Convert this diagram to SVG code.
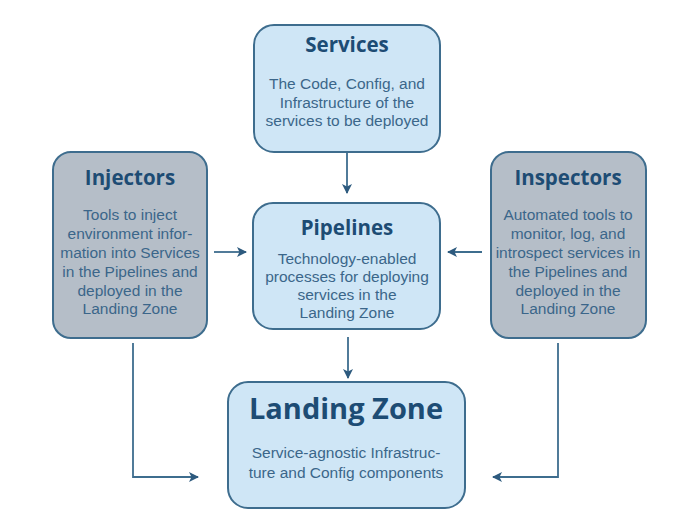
<svg xmlns="http://www.w3.org/2000/svg" width="685" height="519" viewBox="0 0 685 519">
<defs>
<marker id="ah" viewBox="0 0 10 10" refX="9" refY="5" markerWidth="10" markerHeight="10" markerUnits="userSpaceOnUse" orient="auto">
<path d="M0,0 L10,5 L0,10 L2.5,5 Z" fill="#2d5a7e"/>
</marker>
<style>
.blue{fill:#cfe6f6;stroke:#3e6d8e;stroke-width:2}
.gray{fill:#b5bec8;stroke:#3e6d8e;stroke-width:2}
.t{font-family:"Open Sans","Noto Sans",sans-serif;font-weight:bold;fill:#1d4c74;text-anchor:middle;font-size:20.5px}
.b{font-family:"Liberation Sans",Arial,sans-serif;fill:#3b668a;text-anchor:middle;font-size:15.5px}
.c{fill:none;stroke:#3e6d8e;stroke-width:1.8;marker-end:url(#ah)}
</style>
</defs>
<rect width="685" height="519" fill="#ffffff"/>
<g id="connectors">
<line class="c" x1="347" y1="153" x2="347" y2="193"/>
<line class="c" x1="214" y1="252" x2="246" y2="252"/>
<line class="c" x1="482" y1="252" x2="448" y2="252"/>
<line class="c" x1="348" y1="337" x2="348" y2="378"/>
<path class="c" d="M133,343 V477 H198"/>
<path class="c" d="M558,343 V477 H493"/>
</g>
<g id="services">
<rect class="blue" x="254" y="25" width="186" height="127" rx="20"/>
<text class="t" x="347" y="52">Services</text>
<text class="b" x="347" y="89">The Code, Config, and</text>
<text class="b" x="347" y="108">Infrastructure of the</text>
<text class="b" x="347" y="126">services to be deployed</text>
</g>
<g id="injectors">
<rect class="gray" x="53" y="152" width="154" height="186" rx="18"/>
<text class="t" x="130" y="185">Injectors</text>
<text class="b" x="130" y="220">Tools to inject</text>
<text class="b" x="130" y="239">environment infor-</text>
<text class="b" x="130" y="258">mation into Services</text>
<text class="b" x="130" y="277">in the Pipelines and</text>
<text class="b" x="130" y="296">deployed in the</text>
<text class="b" x="130" y="314">Landing Zone</text>
</g>
<g id="pipelines">
<rect class="blue" x="253" y="203" width="187" height="126" rx="20"/>
<text class="t" x="347" y="235">Pipelines</text>
<text class="b" x="347" y="264">Technology-enabled</text>
<text class="b" x="347" y="282">processes for deploying</text>
<text class="b" x="347" y="300">services in the</text>
<text class="b" x="347" y="318">Landing Zone</text>
</g>
<g id="inspectors">
<rect class="gray" x="491" y="152" width="155" height="186" rx="18"/>
<text class="t" x="568" y="185">Inspectors</text>
<text class="b" x="568" y="220">Automated tools to</text>
<text class="b" x="568" y="239">monitor, log, and</text>
<text class="b" x="568" y="258">introspect services in</text>
<text class="b" x="568" y="277">the Pipelines and</text>
<text class="b" x="568" y="296">deployed in the</text>
<text class="b" x="568" y="314">Landing Zone</text>
</g>
<g id="landing-zone">
<rect class="blue" x="228" y="382" width="237" height="126" rx="20"/>
<text class="t" x="346" y="419" style="font-size:29px">Landing Zone</text>
<text class="b" x="346" y="458">Service-agnostic Infrastruc-</text>
<text class="b" x="346" y="478">ture and Config components</text>
</g>
</svg>
